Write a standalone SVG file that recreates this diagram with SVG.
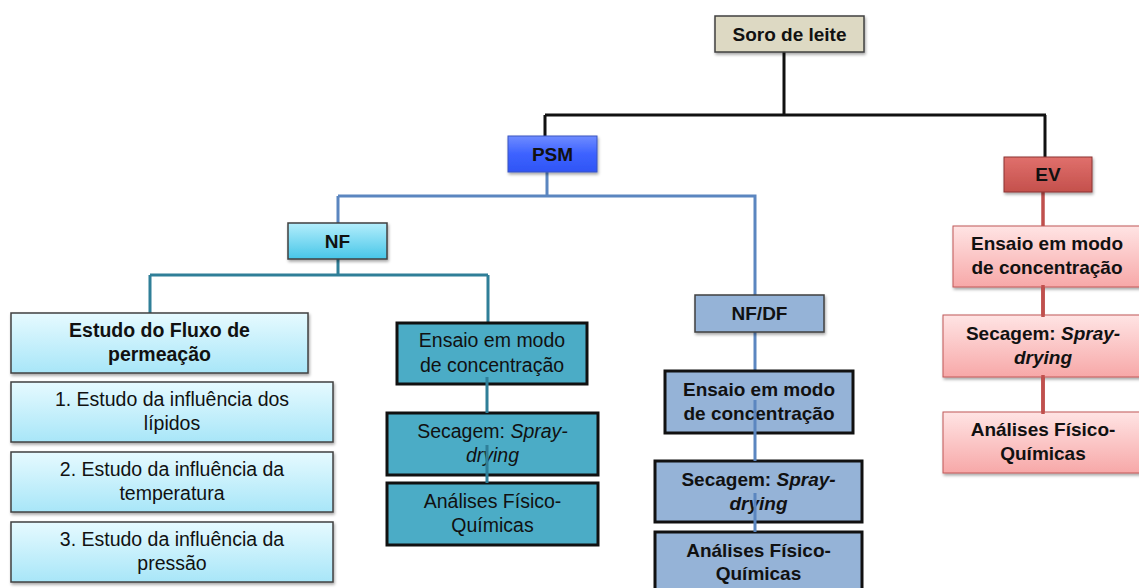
<svg xmlns="http://www.w3.org/2000/svg" width="1139" height="588" viewBox="0 0 1139 588">
<defs>
<linearGradient id="gPsm" x1="0" y1="0" x2="0" y2="1"><stop offset="0" stop-color="#6f8cff"/><stop offset="0.5" stop-color="#3d62ff"/><stop offset="1" stop-color="#2f55f5"/></linearGradient>
<linearGradient id="gNf" x1="0" y1="0" x2="0" y2="1"><stop offset="0" stop-color="#b4eefc"/><stop offset="1" stop-color="#47c6e8"/></linearGradient>
<linearGradient id="gEv" x1="0" y1="0" x2="0" y2="1"><stop offset="0" stop-color="#e0706c"/><stop offset="1" stop-color="#c4504c"/></linearGradient>
<linearGradient id="gPink" x1="0" y1="0" x2="0" y2="1"><stop offset="0" stop-color="#ffe4e4"/><stop offset="1" stop-color="#f7a8a8"/></linearGradient>
<linearGradient id="gCyan" x1="0" y1="0" x2="0" y2="1"><stop offset="0" stop-color="#e6faff"/><stop offset="1" stop-color="#a8e6f8"/></linearGradient>
<filter id="sh" x="-10%" y="-10%" width="125%" height="135%"><feDropShadow dx="1" dy="2" stdDeviation="1.5" flood-color="#000" flood-opacity="0.35"/></filter>
</defs>
<style>
text{font-family:"Liberation Sans",Arial,sans-serif;fill:#111;text-anchor:middle}
.b{font-weight:bold}
.s17{font-size:19.5px}
.s16{font-size:19px}
.thin{stroke:#404040;stroke-width:1.5}
.thick{stroke:#111;stroke-width:3}
.blk{stroke:#111;stroke-width:3;fill:none}
.blu{stroke:#5b86c0;stroke-width:3;fill:none}
.teal{stroke:#2f7f98;stroke-width:3;fill:none}
.red{stroke:#c0504d;stroke-width:3.5;fill:none}
</style>
<g id="connectors">
<path class="blk" d="M784 52 V115 M545 115 H1046 M545 115 V136 M1045 115 V157"/>
<path class="blu" d="M547 172 V196 M338 196 H755 V295 M338 196 V223"/>
<path class="teal" d="M338 259 V275 M150 275 H488 M150 275 V313 M488 275 V323"/>
<path class="blu" d="M755 332 V371"/>
<path class="red" d="M1043 192 V226 M1043 287 V315 M1043 377 V412"/>
</g>
<g id="soro"><rect x="715" y="16" width="149" height="36" fill="#ddd9c3" class="thin" filter="url(#sh)"/><text x="789.5" y="41" class="b s16">Soro de leite</text></g>
<g id="psm"><rect x="508" y="136" width="89" height="36" fill="url(#gPsm)" stroke="#3a55c0" stroke-width="1" filter="url(#sh)"/><text x="552.5" y="161" class="b s16">PSM</text></g>
<g id="ev"><rect x="1004" y="157" width="88" height="35" fill="url(#gEv)" stroke="#8b3532" stroke-width="1" filter="url(#sh)"/><text x="1048" y="181" class="b s16">EV</text></g>
<g id="nf"><rect x="288" y="223" width="99" height="36" fill="url(#gNf)" class="thin" filter="url(#sh)"/><text x="337.5" y="248" class="b s16">NF</text></g>
<g id="fluxo"><rect x="11" y="313" width="297" height="60" fill="url(#gCyan)" class="thin" filter="url(#sh)"/><text x="159.5" y="337" class="b s17">Estudo do Fluxo de</text><text x="159.5" y="361" class="b s17">permeação</text></g>
<g id="est1"><rect x="11" y="382" width="322" height="60" fill="url(#gCyan)" class="thin" filter="url(#sh)"/><text x="172" y="406" class="s17">1. Estudo da influência dos</text><text x="172" y="430" class="s17">lípidos</text></g>
<g id="est2"><rect x="11" y="452" width="322" height="60" fill="url(#gCyan)" class="thin" filter="url(#sh)"/><text x="172" y="476" class="s17">2. Estudo da influência da</text><text x="172" y="500" class="s17">temperatura</text></g>
<g id="est3"><rect x="11" y="522" width="322" height="60" fill="url(#gCyan)" class="thin" filter="url(#sh)"/><text x="172" y="546" class="s17">3. Estudo da influência da</text><text x="172" y="570" class="s17">pressão</text></g>
<g id="nf-ensaio"><rect x="397" y="323" width="190" height="61" fill="#4bacc6" class="thick"/><text x="492" y="347" class="s17">Ensaio em modo</text><text x="492" y="372" class="s17">de concentração</text></g>
<g id="nf-secagem"><rect x="387" y="413" width="211" height="62" fill="#4bacc6" class="thick"/><text x="492.5" y="438" class="s17">Secagem: <tspan font-style="italic">Spray-</tspan></text><text x="492.5" y="462" class="s17" font-style="italic">drying</text></g>
<g id="nf-analises"><rect x="387" y="483" width="211" height="62" fill="#4bacc6" class="thick"/><text x="492.5" y="508" class="s17">Análises Físico-</text><text x="492.5" y="532" class="s17">Químicas</text></g>
<g id="nfdf"><rect x="695" y="295" width="129" height="37" fill="#95b3d7" class="thin" filter="url(#sh)"/><text x="759.5" y="320" class="b s16">NF/DF</text></g>
<g id="df-ensaio"><rect x="665" y="371" width="188" height="62" fill="#95b3d7" class="thick"/><text x="759" y="396" class="b s16">Ensaio em modo</text><text x="759" y="420" class="b s16">de concentração</text></g>
<g id="df-secagem"><rect x="655" y="461" width="207" height="61" fill="#95b3d7" class="thick"/><text x="758.5" y="486" class="b s16">Secagem: <tspan font-style="italic">Spray-</tspan></text><text x="758.5" y="510" class="b s16" font-style="italic">drying</text></g>
<g id="df-analises"><rect x="655" y="532" width="207" height="62" fill="#95b3d7" class="thick"/><text x="758.5" y="557" class="b s16">Análises Físico-</text><text x="758.5" y="580" class="b s16">Químicas</text></g>
<g id="ev-ensaio"><rect x="953" y="226" width="190" height="61" fill="url(#gPink)" stroke="#c05858" stroke-width="1" filter="url(#sh)"/><text x="1047" y="250" class="b s16">Ensaio em modo</text><text x="1047" y="274" class="b s16">de concentração</text></g>
<g id="ev-secagem"><rect x="943" y="315" width="200" height="62" fill="url(#gPink)" stroke="#c05858" stroke-width="1" filter="url(#sh)"/><text x="1043" y="340" class="b s16">Secagem: <tspan font-style="italic">Spray-</tspan></text><text x="1043" y="364" class="b s16" font-style="italic">drying</text></g>
<g id="ev-analises"><rect x="943" y="412" width="200" height="61" fill="url(#gPink)" stroke="#c05858" stroke-width="1" filter="url(#sh)"/><text x="1043" y="436" class="b s16">Análises Físico-</text><text x="1043" y="460" class="b s16">Químicas</text></g>
<g id="overlay-connectors">
<path class="teal" d="M487 377 V413 M487 445 V483"/>
<path class="blu" d="M755 400 V461 M755 493 V532"/>
<path class="red" d="M1043 285 V317 M1043 375 V414"/>
</g>
</svg>
